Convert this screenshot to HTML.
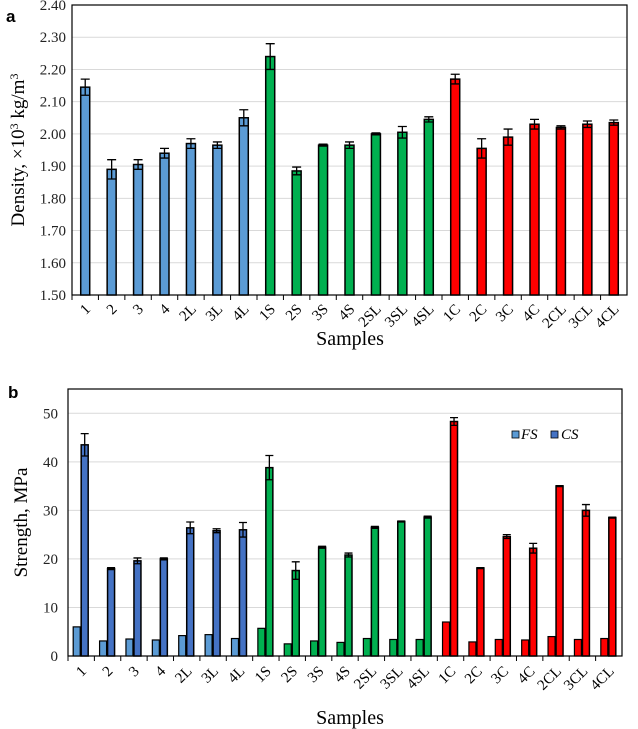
<!DOCTYPE html>
<html><head><meta charset="utf-8"><style>
body{margin:0;background:#fff;}
svg{display:block;font-family:"Liberation Serif",serif;}
</style></head><body>
<svg id="s" width="638" height="729"></svg>
<script>
const categories=["1","2","3","4","2L","3L","4L","1S","2S","3S","4S","2SL","3SL","4SL","1C","2C","3C","4C","2CL","3CL","4CL"];
const groups=["b","b","b","b","b","b","b","g","g","g","g","g","g","g","r","r","r","r","r","r","r"];
const densityValues=[2.145,1.89,1.905,1.94,1.97,1.965,2.05,2.24,1.885,1.965,1.965,2.0,2.005,2.045,2.17,1.955,1.99,2.03,2.02,2.03,2.035];
const densityErrors=[0.025,0.03,0.015,0.015,0.015,0.01,0.025,0.04,0.012,0.003,0.01,0.003,0.018,0.008,0.015,0.03,0.025,0.015,0.005,0.01,0.008];
const fsValues=[6,3.1,3.5,3.3,4.2,4.4,3.6,5.7,2.5,3.1,2.8,3.6,3.4,3.4,7,2.9,3.4,3.3,4,3.4,3.6];
const csValues=[43.5,18,19.6,20,26.4,25.8,26,38.8,17.6,22.4,20.8,26.5,27.7,28.6,48.3,18.1,24.6,22.2,35,30,28.5];
const csErrors=[2.3,0.2,0.6,0.2,1.2,0.4,1.5,2.5,1.8,0.2,0.4,0.2,0.1,0.2,0.8,0.1,0.4,1,0.1,1.2,0.1];
const densityTicks=[1.5,1.6,1.7,1.8,1.9,2.0,2.1,2.2,2.3,2.4];
const strengthTicks=[0,10,20,30,40,50];

const svg=document.getElementById('s');const NS="http://www.w3.org/2000/svg";
function el(t,a,txt){const e=document.createElementNS(NS,t);for(const k in a)e.setAttribute(k,a[k]);if(txt!==undefined)e.textContent=txt;svg.appendChild(e);return e;}
const fill1={b:"#5b9bd5",g:"#00b050",r:"#ff0000"};
const fillCS={b:"#4472c4",g:"#00b050",r:"#ff0000"};

// Chart A
const A={x0:72,x1:627,y0:295,y1:5,min:1.5,max:2.4};
const ay=v=>A.y0-(v-A.min)/(A.max-A.min)*(A.y0-A.y1);
const aw=(A.x1-A.x0)/categories.length;
const ax=i=>A.x0+aw*(i+0.5);
densityTicks.forEach(t=>{
 if(t>A.min&&t<A.max){const g=el('line',{x1:A.x0,x2:A.x1,y1:ay(t),y2:ay(t),stroke:"#d9d9d9","stroke-width":1});}
 const l=el('text',{x:A.x0-6,y:ay(t)+5,"text-anchor":"end","font-size":15,fill:"#222"},t.toFixed(2));
 
});
el('rect',{x:A.x0,y:A.y1,width:A.x1-A.x0,height:A.y0-A.y1,fill:"none",stroke:"#000","stroke-width":1.2});
densityValues.forEach((v,i)=>{
 const c=ax(i);
 const r=el('rect',{x:c-4.5,y:ay(v),width:9,height:A.y0-ay(v),fill:fill1[groups[i]],stroke:"#000","stroke-width":1.5});
 
 const e=densityErrors[i];
 el('path',{d:`M${c},${ay(v-e)}V${ay(v+e)}M${c-4.5},${ay(v+e)}H${c+4.5}M${c-4.5},${ay(v-e)}H${c+4.5}`,stroke:"#000","stroke-width":1.3,fill:"none"});
 el('line',{x1:A.x0+aw*i,x2:A.x0+aw*i,y1:A.y0,y2:A.y0+5,stroke:"#000"});
 const t=el('text',{x:c+6,y:A.y0+15,"text-anchor":"end","font-size":15,transform:`rotate(-45 ${c+6} ${A.y0+15})`},categories[i]);
 
});
el('text',{x:6,y:22,"font-size":17,"font-weight":"bold","font-family":"Liberation Sans, sans-serif"},"a");
const yt=el('text',{x:0,y:0,"font-size":19,"text-anchor":"middle",transform:`translate(24 ${(A.y0+A.y1)/2}) rotate(-90)`});
yt.innerHTML='Density, ×10<tspan dy="-6" font-size="12">3</tspan><tspan dy="6"> kg/m</tspan><tspan dy="-6" font-size="12">3</tspan>';

el('text',{x:350,y:345,"font-size":20,"text-anchor":"middle"},"Samples");

// Chart B
const B={x0:68,x1:622,y0:656,y1:389,min:0,max:55};
const by=v=>B.y0-(v-B.min)/(B.max-B.min)*(B.y0-B.y1);
const bw=(B.x1-B.x0)/categories.length;
const bx=i=>B.x0+bw*(i+0.5);
strengthTicks.forEach(t=>{
 if(t>0){const g=el('line',{x1:B.x0,x2:B.x1,y1:by(t),y2:by(t),stroke:"#d9d9d9","stroke-width":1});}
 const l=el('text',{x:B.x0-10,y:by(t)+5,"text-anchor":"end","font-size":15,fill:"#222"},String(t));
 
});
el('rect',{x:B.x0,y:B.y1,width:B.x1-B.x0,height:B.y0-B.y1,fill:"none",stroke:"#000","stroke-width":1.2});
categories.forEach((cat,i)=>{
 const c=bx(i);
 const f=el('rect',{x:c-8,y:by(fsValues[i]),width:7,height:B.y0-by(fsValues[i]),fill:fill1[groups[i]],stroke:"#000","stroke-width":1.2});
 
 const v=csValues[i];
 const r=el('rect',{x:c,y:by(v),width:7,height:B.y0-by(v),fill:fillCS[groups[i]],stroke:"#000","stroke-width":1.5});
 
 const e=csErrors[i],m=c+3.5;
 el('path',{d:`M${m},${by(v-e)}V${by(v+e)}M${m-4},${by(v+e)}H${m+4}M${m-4},${by(v-e)}H${m+4}`,stroke:"#000","stroke-width":1.3,fill:"none"});
 el('line',{x1:B.x0+bw*i,x2:B.x0+bw*i,y1:B.y0,y2:B.y0+5,stroke:"#000"});
 const t=el('text',{x:c+6,y:B.y0+16,"text-anchor":"end","font-size":15,transform:`rotate(-45 ${c+6} ${B.y0+16})`},cat);
 
});
el('text',{x:8,y:398,"font-size":17,"font-weight":"bold","font-family":"Liberation Sans, sans-serif"},"b");
const yb=el('text',{x:0,y:0,"font-size":19,"text-anchor":"middle",transform:`translate(27 ${(B.y0+B.y1)/2}) rotate(-90)`},"Strength, MPa");

el('text',{x:350,y:724,"font-size":20,"text-anchor":"middle"},"Samples");
// legend
const lg1=el('rect',{x:512,y:431,width:7,height:7,fill:"#5b9bd5",stroke:"#000","stroke-width":0.8});
el('text',{x:521,y:439,"font-size":15,"font-style":"italic"},"FS");
const lg2=el('rect',{x:551,y:431,width:7,height:7,fill:"#4472c4",stroke:"#000","stroke-width":0.8});
el('text',{x:561,y:439,"font-size":15,"font-style":"italic"},"CS");
</script>
</body></html>
